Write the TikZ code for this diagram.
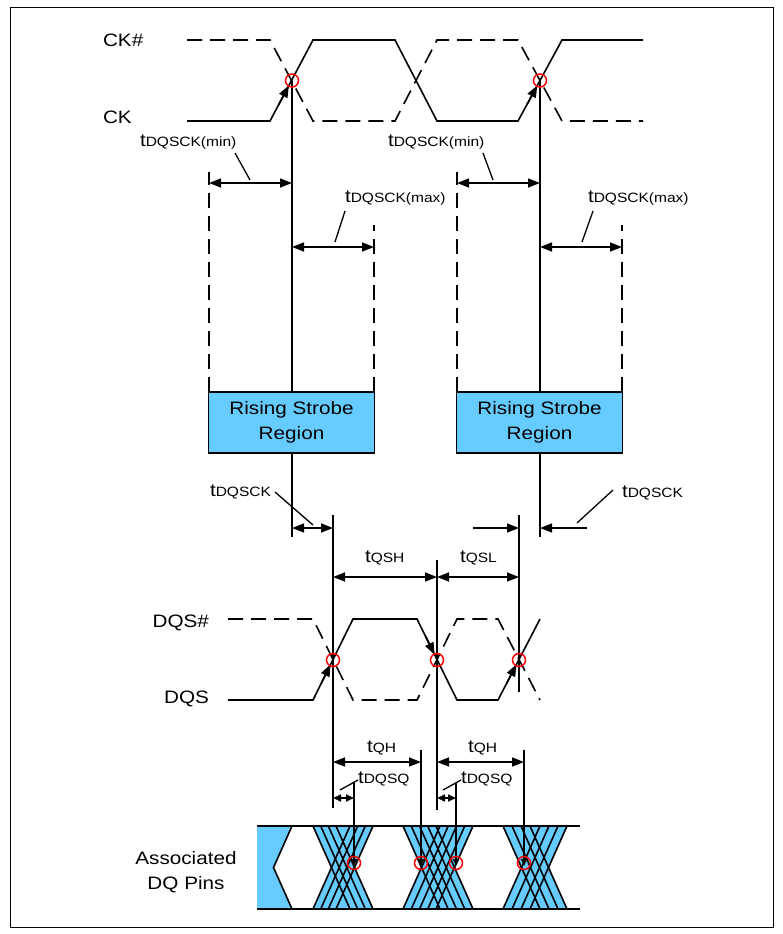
\documentclass[tikz,border=0pt]{standalone}
\usepackage{fontspec}
\setmainfont{Liberation Sans}[FakeStretch=1.15]
\usetikzlibrary{arrows.meta,calc}
\definecolor{fillblue}{RGB}{102,204,255}
\newcommand\tsub[1]{t{\fontsize{13.5}{15}\selectfont #1}}
\begin{document}
\begin{tikzpicture}[x=1pt,y=-1pt,line width=1.6pt,
  every node/.style={inner sep=0pt,outer sep=0pt},
  big/.style={font=\fontsize{18}{25}\selectfont},
  dsig/.style={dash pattern=on 15pt off 8pt},
  tipend/.style={-{Triangle[length=12pt,width=9pt]}},
  dim/.style={{Triangle[length=12pt,width=9pt]}-{Triangle[length=12pt,width=9pt]}},
  sdim/.style={{Triangle[length=8pt,width=7pt]}-{Triangle[length=8pt,width=7pt]}},
  downtip/.style={-{Triangle[length=7pt,width=6pt]}},
  lead/.style={line width=1.3pt},
  xring/.style={draw=red,line width=1.5pt,circle,minimum size=13pt},
  boxst/.style={draw,fill=fillblue,line width=1.6pt,minimum width=166pt,minimum height=61pt,align=center,font=\fontsize{18}{25}\selectfont}
]
\useasboundingbox (0,0) rectangle (782,934);
\draw[line width=1pt] (10,8) rectangle (773,927);

% ---------- CK ----------
\node[big,anchor=base west] (lckn) at (103,47) {CK\#};
\node[big,anchor=base west] (lck) at (103,123) {CK};
\draw[dsig] (187,40) -- (270,40) -- (313,121) -- (395,121) -- (437,40) -- (518,40) -- (562,121) -- (643,121);
\draw (187,121) -- (270,121) -- (313,40) -- (395,40) -- (437,121) -- (518,121) -- (562,40) -- (643,40);
\coordinate (a1) at (270,121); \coordinate (b1) at (313,40);
\coordinate (a2) at (518,121); \coordinate (b2) at (562,40);
\draw[tipend] ($(a1)!0.2!(b1)$) -- ($(a1)!0.44!(b1)$);
\draw[tipend] ($(a2)!0.2!(b2)$) -- ($(a2)!0.44!(b2)$);
\coordinate (X1) at (292,80.5);
\coordinate (X2) at (540,80.5);

% verticals from CK crossings
\coordinate (V1b) at (292,537);
\coordinate (V2b) at (540,537);
\draw (X1) -- (V1b);
\draw (X2) -- (V2b);

% dashed window lines
\draw[dsig] (209,392) -- (209,172);
\draw[dsig] (374,392) -- (374,225);
\draw[dsig] (457,392) -- (457,172);
\draw[dsig] (622,392) -- (622,225);

% tDQSCK(min/max) dims
\coordinate (m1l) at (209,183); \coordinate (m1r) at (292,183);
\draw[dim] (m1l) -- (m1r);
\draw[lead] (235,153) -- (250,180);
\node[big,anchor=base west] (tmin1) at (140,146) {\tsub{DQSCK(min)}};
\coordinate (M1l) at (292,247); \coordinate (M1r) at (374,247);
\draw[dim] (M1l) -- (M1r);
\draw[lead] (345,211) -- (335,242);
\node[big,anchor=base west] (tmax1) at (345,202) {\tsub{DQSCK(max)}};

\coordinate (m2l) at (457,183); \coordinate (m2r) at (540,183);
\draw[dim] (m2l) -- (m2r);
\draw[lead] (483,153) -- (493,180);
\node[big,anchor=base west] (tmin2) at (388,146) {\tsub{DQSCK(min)}};
\coordinate (M2l) at (540,247); \coordinate (M2r) at (622,247);
\draw[dim] (M2l) -- (M2r);
\draw[lead] (593,211) -- (582,242);
\node[big,anchor=base west] (tmax2) at (588,202) {\tsub{DQSCK(max)}};

% Rising strobe boxes
\node[boxst] (box1) at (291.5,422.5) {Rising Strobe\\Region};
\node[boxst] (box2) at (539.5,422.5) {Rising Strobe\\Region};

% ---------- tDQSCK / tQSH / tQSL ----------
\coordinate (D1) at (333,515); \coordinate (D1b) at (333,808);
\coordinate (D2) at (437,560); \coordinate (D2b) at (437,810);
\coordinate (D3) at (519,515); \coordinate (D3b) at (519,692);
\draw (D1) -- (D1b);
\draw (D2) -- (D2b);
\draw (D3) -- (D3b);

\draw[dim] (292,528) -- (333,528);
\draw[lead] (275,492) -- (313,525);
\node[big,anchor=base west] (tq1) at (210,496) {\tsub{DQSCK}};
\draw[tipend] (473,528) -- (519,528);
\draw[tipend] (587,528) -- (540,528);
\draw[lead] (577,523) -- (613,490);
\node[big,anchor=base west] (tq2) at (622,497) {\tsub{DQSCK}};

\draw[dim] (333,577) -- (437,577);
\draw[dim] (437,577) -- (519,577);
\node[big,anchor=base west] (tqsh) at (365,562) {\tsub{QSH}};
\node[big,anchor=base west] (tqsl) at (460,562) {\tsub{QSL}};

% ---------- DQS ----------
\node[big,anchor=base east] (ldqsn) at (209,627) {DQS\#};
\node[big,anchor=base east] (ldqs) at (209,703) {DQS};
\draw[dsig] (228,619) -- (313,619) -- (353,700) -- (417,700) -- (457,619) -- (498,619) -- (540,700);
\draw (228,700) -- (313,700) -- (353,619) -- (417,619) -- (457,700) -- (498,700) -- (540,619);
\coordinate (p1) at (313,700); \coordinate (q1) at (353,619);
\coordinate (p2) at (417,619); \coordinate (q2) at (457,700);
\coordinate (p3) at (498,700); \coordinate (q3) at (540,619);
\draw[tipend] ($(p1)!0.2!(q1)$) -- ($(p1)!0.44!(q1)$);
\draw[tipend] ($(p2)!0.2!(q2)$) -- ($(p2)!0.44!(q2)$);
\draw[tipend] ($(p3)!0.2!(q3)$) -- ($(p3)!0.44!(q3)$);

% ---------- tQH / tDQSQ ----------
\draw[dim] (333,762) -- (421,762);
\draw[dim] (437,762) -- (524,762);
\node[big,anchor=base west] (tqh1) at (367,752) {\tsub{QH}};
\node[big,anchor=base west] (tqh2) at (468,752) {\tsub{QH}};
\draw[sdim] (333,798) -- (354,798);
\draw[sdim] (437,798) -- (456,798);
\draw[lead] (340,790) -- (358,780);
\draw[lead] (443,790) -- (461,780);
\node[big,anchor=base west] (tdq1) at (358,783) {\tsub{DQSQ}};
\node[big,anchor=base west] (tdq2) at (461,783) {\tsub{DQSQ}};

% ---------- DQ pins ----------
\node[big,align=center,anchor=base] (assoc) at (186,864) {Associated};
\node[big,align=center,anchor=base] (dqp) at (186,889) {DQ Pins};
\def\hh{18.5}
\fill[fillblue] (257,826) -- (292,826) -- (273.5,867.5) -- (292,909) -- (257,909) -- cycle;
\foreach \cmin/\cmax in {331.5/354.5,421.5/454.5,521.5/548.5}{
  \fill[fillblue] ({\cmin-\hh},826) -- ({\cmax+\hh},826) -- (\cmax,867.5) -- ({\cmax+\hh},909) -- ({\cmin-\hh},909) -- (\cmin,867.5) -- cycle;
}
\draw (292,826) -- (273.5,867.5) -- (292,909);
\foreach \c in {331.5,339.2,346.8,354.5,421.5,429.75,438,446.25,454.5,521.5,530.5,539.5,548.5}{
  \draw ({\c-\hh},826) -- ({\c+\hh},909);
  \draw ({\c-\hh},909) -- ({\c+\hh},826);
}
\draw (257,826) -- (580,826);
\draw (257,909) -- (580,909);
\draw[downtip] (354,783) -- (354,866);
\draw[downtip] (421,750) -- (421,866);
\draw[downtip] (456,783) -- (456,866);
\draw[downtip] (524,750) -- (524,866);

% ---------- red rings ----------
\node[xring] (r1) at (X1) {};
\node[xring] (r2) at (X2) {};
\node[xring] (r3) at (333,660) {};
\node[xring] (r4) at (437,660) {};
\node[xring] (r5) at (519,660) {};
\node[xring] (r6) at (354,863) {};
\node[xring] (r7) at (421,863) {};
\node[xring] (r8) at (456,863) {};
\node[xring] (r9) at (524,863) {};
\end{tikzpicture}
\end{document}
